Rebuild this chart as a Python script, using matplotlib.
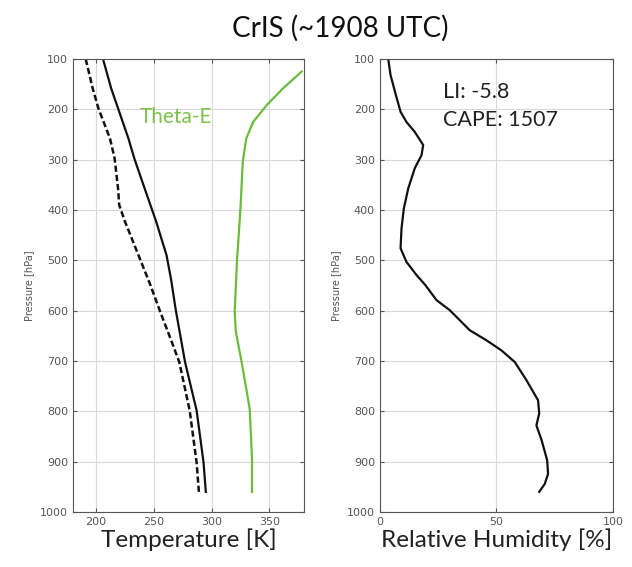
import numpy as np
from matplotlib import pyplot as plt

# Temperature / dewpoint profile (K) vs pressure (hPa)
p_temp = [100, 158, 198, 258, 297, 357, 423, 490, 539, 599, 702, 798, 901, 960]
temp = [206, 213, 219, 228, 233, 242, 252, 261, 265, 269, 277, 287, 293, 295]

p_dew = [100, 158, 198, 258, 297, 357, 390, 423, 463, 503, 549, 599, 659, 702,
         798, 901, 960]
dewpoint = [191, 197, 202, 212, 216, 219, 220, 225, 232, 239, 247, 255, 265, 272,
            281, 287, 289]

p_thetae = [125, 158, 191, 225, 258, 304, 397, 500, 602, 642, 702, 795, 894, 960]
theta_e = [378, 362, 348, 336, 330, 327, 325, 322, 320, 321, 326, 333, 335, 335]

# Relative humidity profile (%)
p_rh = [100, 132, 172, 205, 225, 245, 271, 291, 317, 357, 397, 437, 476, 503,
        529, 549, 579, 599, 639, 659, 679, 702, 738, 778, 804, 828, 857, 897,
        924, 944, 960]
rh = [3.6, 4.6, 6.9, 8.9, 11.4, 15.0, 18.6, 17.9, 15.0, 12.2, 10.3, 9.3, 8.9, 11.4,
      15.7, 19.5, 24.3, 30.0, 38.6, 45.8, 52.2, 57.9, 62.9, 67.9, 68.4, 67.2, 69.4, 71.8,
      72.2, 70.8, 68.4]

title = 'CrIS (~1908 UTC)'
li_text = 'LI: -5.8'
cape_text = 'CAPE: 1507'

green = '#6cbb3c'
tick_color = '#555555'


def style_axes(ax, xlim, xticks):
    ax.set_xlim(xlim)
    ax.set_ylim(1000, 100)
    ax.set_xticks(xticks)
    ax.set_yticks(np.arange(100, 1001, 100))
    ax.grid(True, color='#d9d9d9', linewidth=0.8)
    ax.tick_params(direction='in', labelsize=8, colors=tick_color, length=3,
                   top=True, right=True)
    for s in ax.spines.values():
        s.set_color('#555555')
        s.set_linewidth(0.8)
    ax.set_ylabel('Pressure [hPa]', fontsize=7, color=tick_color, labelpad=4)


fig = plt.figure(figsize=(6.32, 5.67), dpi=100)
ax1 = fig.add_axes([0.1155, 0.097, 0.3655, 0.799])
ax2 = fig.add_axes([0.601, 0.097, 0.3687, 0.799])

ax1.plot(temp, p_temp, color='#111111', linewidth=1.6)
ax1.plot(dewpoint, p_dew, color='#111111', linewidth=1.8, linestyle=(0, (2.5, 1.2)))
ax1.plot(theta_e, p_thetae, color=green, linewidth=1.6)
ax1.text(238, 215, 'Theta-E', color='#7cc24a', fontsize=15, family='Lato',
         va='center', ha='left')
style_axes(ax1, (180, 380), [200, 250, 300, 350])
ax1.set_xlabel('Temperature [K]', fontsize=17.5, family='Lato', color='#222222', labelpad=1)

ax2.plot(rh, p_rh, color='#111111', linewidth=1.6)
ax2.text(27, 166, li_text, fontsize=15.5, family='Lato', color='#222222', va='center')
ax2.text(27, 221, cape_text, fontsize=15.5, family='Lato', color='#222222', va='center')
style_axes(ax2, (0, 100), [0, 50, 100])
ax2.set_xlabel('Relative Humidity [%]', fontsize=17.5, family='Lato', color='#222222', labelpad=1)

fig.text(0.538, 0.95, title, fontsize=20, family='Lato', color='#111111',
         ha='center', va='center')

fig.savefig('out.png', dpi=100)
